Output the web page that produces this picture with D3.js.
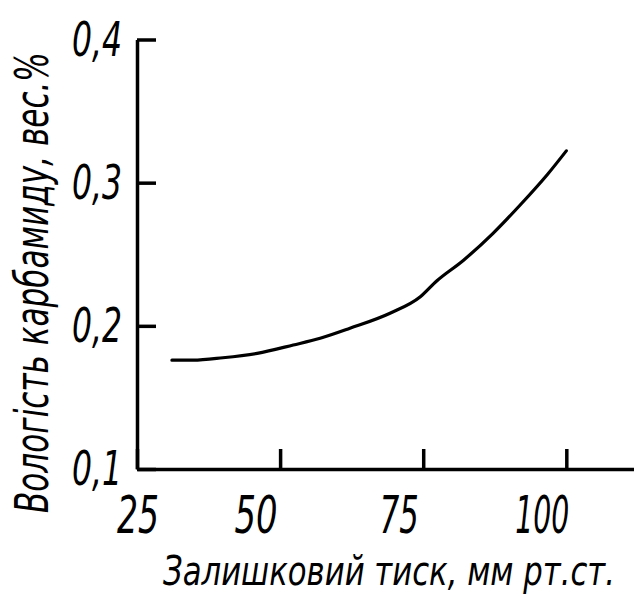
<!DOCTYPE html>
<html>
<head>
<meta charset="utf-8">
<script src="https://cdn.jsdelivr.net/npm/d3@7"></script>
<style>
  body { margin: 0; background: #fff; }
  svg text { font-family: "DejaVu Sans Condensed", "DejaVu Sans", sans-serif; font-style: oblique; fill: #000; }
</style>
</head>
<body>
<div id="chart"></div>
<script>
// pressure (mm Hg) vs moisture of urea (wt.%)
var pressure = [31.1, 34.8, 40.0, 46.0, 52.3, 57.0, 62.2, 69.2, 74.5, 77.4, 82.0, 87.2, 91.9, 96.7, 100];
var moisture = [0.176, 0.176, 0.1777, 0.1808, 0.1866, 0.1913, 0.1983, 0.2088, 0.2203, 0.2315, 0.2457, 0.2646, 0.2842, 0.3057, 0.3222];
var xTicks = [25, 50, 75, 100];
var yTicks = [0.1, 0.2, 0.3, 0.4];
var xTitle = "Залишковий тиск, мм рт.ст.";
var yTitle = "Вологість карбамиду, вес.%";

var W = 634, H = 596;

var svg = d3.select("#chart").append("svg")
  .attr("width", W)
  .attr("height", H);

var x = d3.scaleLinear().domain([25, 112]).range([137, 635]);
var y = d3.scaleLinear().domain([0.1, 0.4]).range([469, 39.5]);

// squeeze a text horizontally to a given width (narrow drafting font look)
function squeeze(sel, w, pre, anchor) {
  sel.each(function (d, i) {
    var node = this;
    var width = typeof w === "function" ? w(d, i) : w;
    var len = node.getComputedTextLength();
    var p = typeof pre === "function" ? pre(d, i) : pre;
    d3.select(node)
      .attr("text-anchor", anchor || "start")
      .attr("transform", p + " scale(" + (width / len) + ",1)");
  });
}

// axes, ticks pointing inward
var xAxis = d3.axisBottom(x).tickValues(xTicks).tickSizeInner(-20).tickSizeOuter(0).tickFormat("");
var yAxis = d3.axisLeft(y).tickValues(yTicks).tickSizeInner(-19).tickSizeOuter(0).tickFormat("");

var gx = svg.append("g").attr("transform", "translate(0," + y(0.1) + ")").call(xAxis);
var gy = svg.append("g").attr("transform", "translate(" + x(25) + ",0)").call(yAxis);

[gx, gy].forEach(function (g) {
  g.selectAll("path, line").attr("stroke", "#000").attr("stroke-width", 3.5);
});

// tick labels
var xLabelWidth = { 25: 42, 50: 43, 75: 39, 100: 54 };
svg.append("g").selectAll("text")
  .data(xTicks)
  .enter().append("text")
  .attr("font-size", 51)
  .text(function (d) { return d; })
  .call(squeeze, function (d) { return xLabelWidth[d]; },
    function (d, i) { return "translate(" + (x(d) - (i === 0 ? -1 : 24)) + ",533)"; }, "middle");

svg.append("g").selectAll("text")
  .data(yTicks)
  .enter().append("text")
  .attr("font-size", 48)
  .text(function (d) { return d3.format(".1f")(d).replace(".", ","); })
  .call(squeeze, 50, function (d) { return "translate(122," + (y(d) + 16) + ")"; }, "end");

// curve
var line = d3.line()
  .x(function (d, i) { return x(pressure[i]); })
  .y(function (d) { return y(d); })
  .curve(d3.curveMonotoneX);

svg.append("path")
  .datum(moisture)
  .attr("d", line)
  .attr("fill", "none")
  .attr("stroke", "#000")
  .attr("stroke-width", 3.2)
  .attr("stroke-linecap", "round");

// axis titles
svg.append("text")
  .attr("font-size", 40)
  .text(xTitle)
  .call(squeeze, 452, "translate(163,585)");

svg.append("text")
  .attr("font-size", 46)
  .text(yTitle)
  .call(squeeze, 461, "translate(48,513) rotate(-90)");
</script>
</body>
</html>
